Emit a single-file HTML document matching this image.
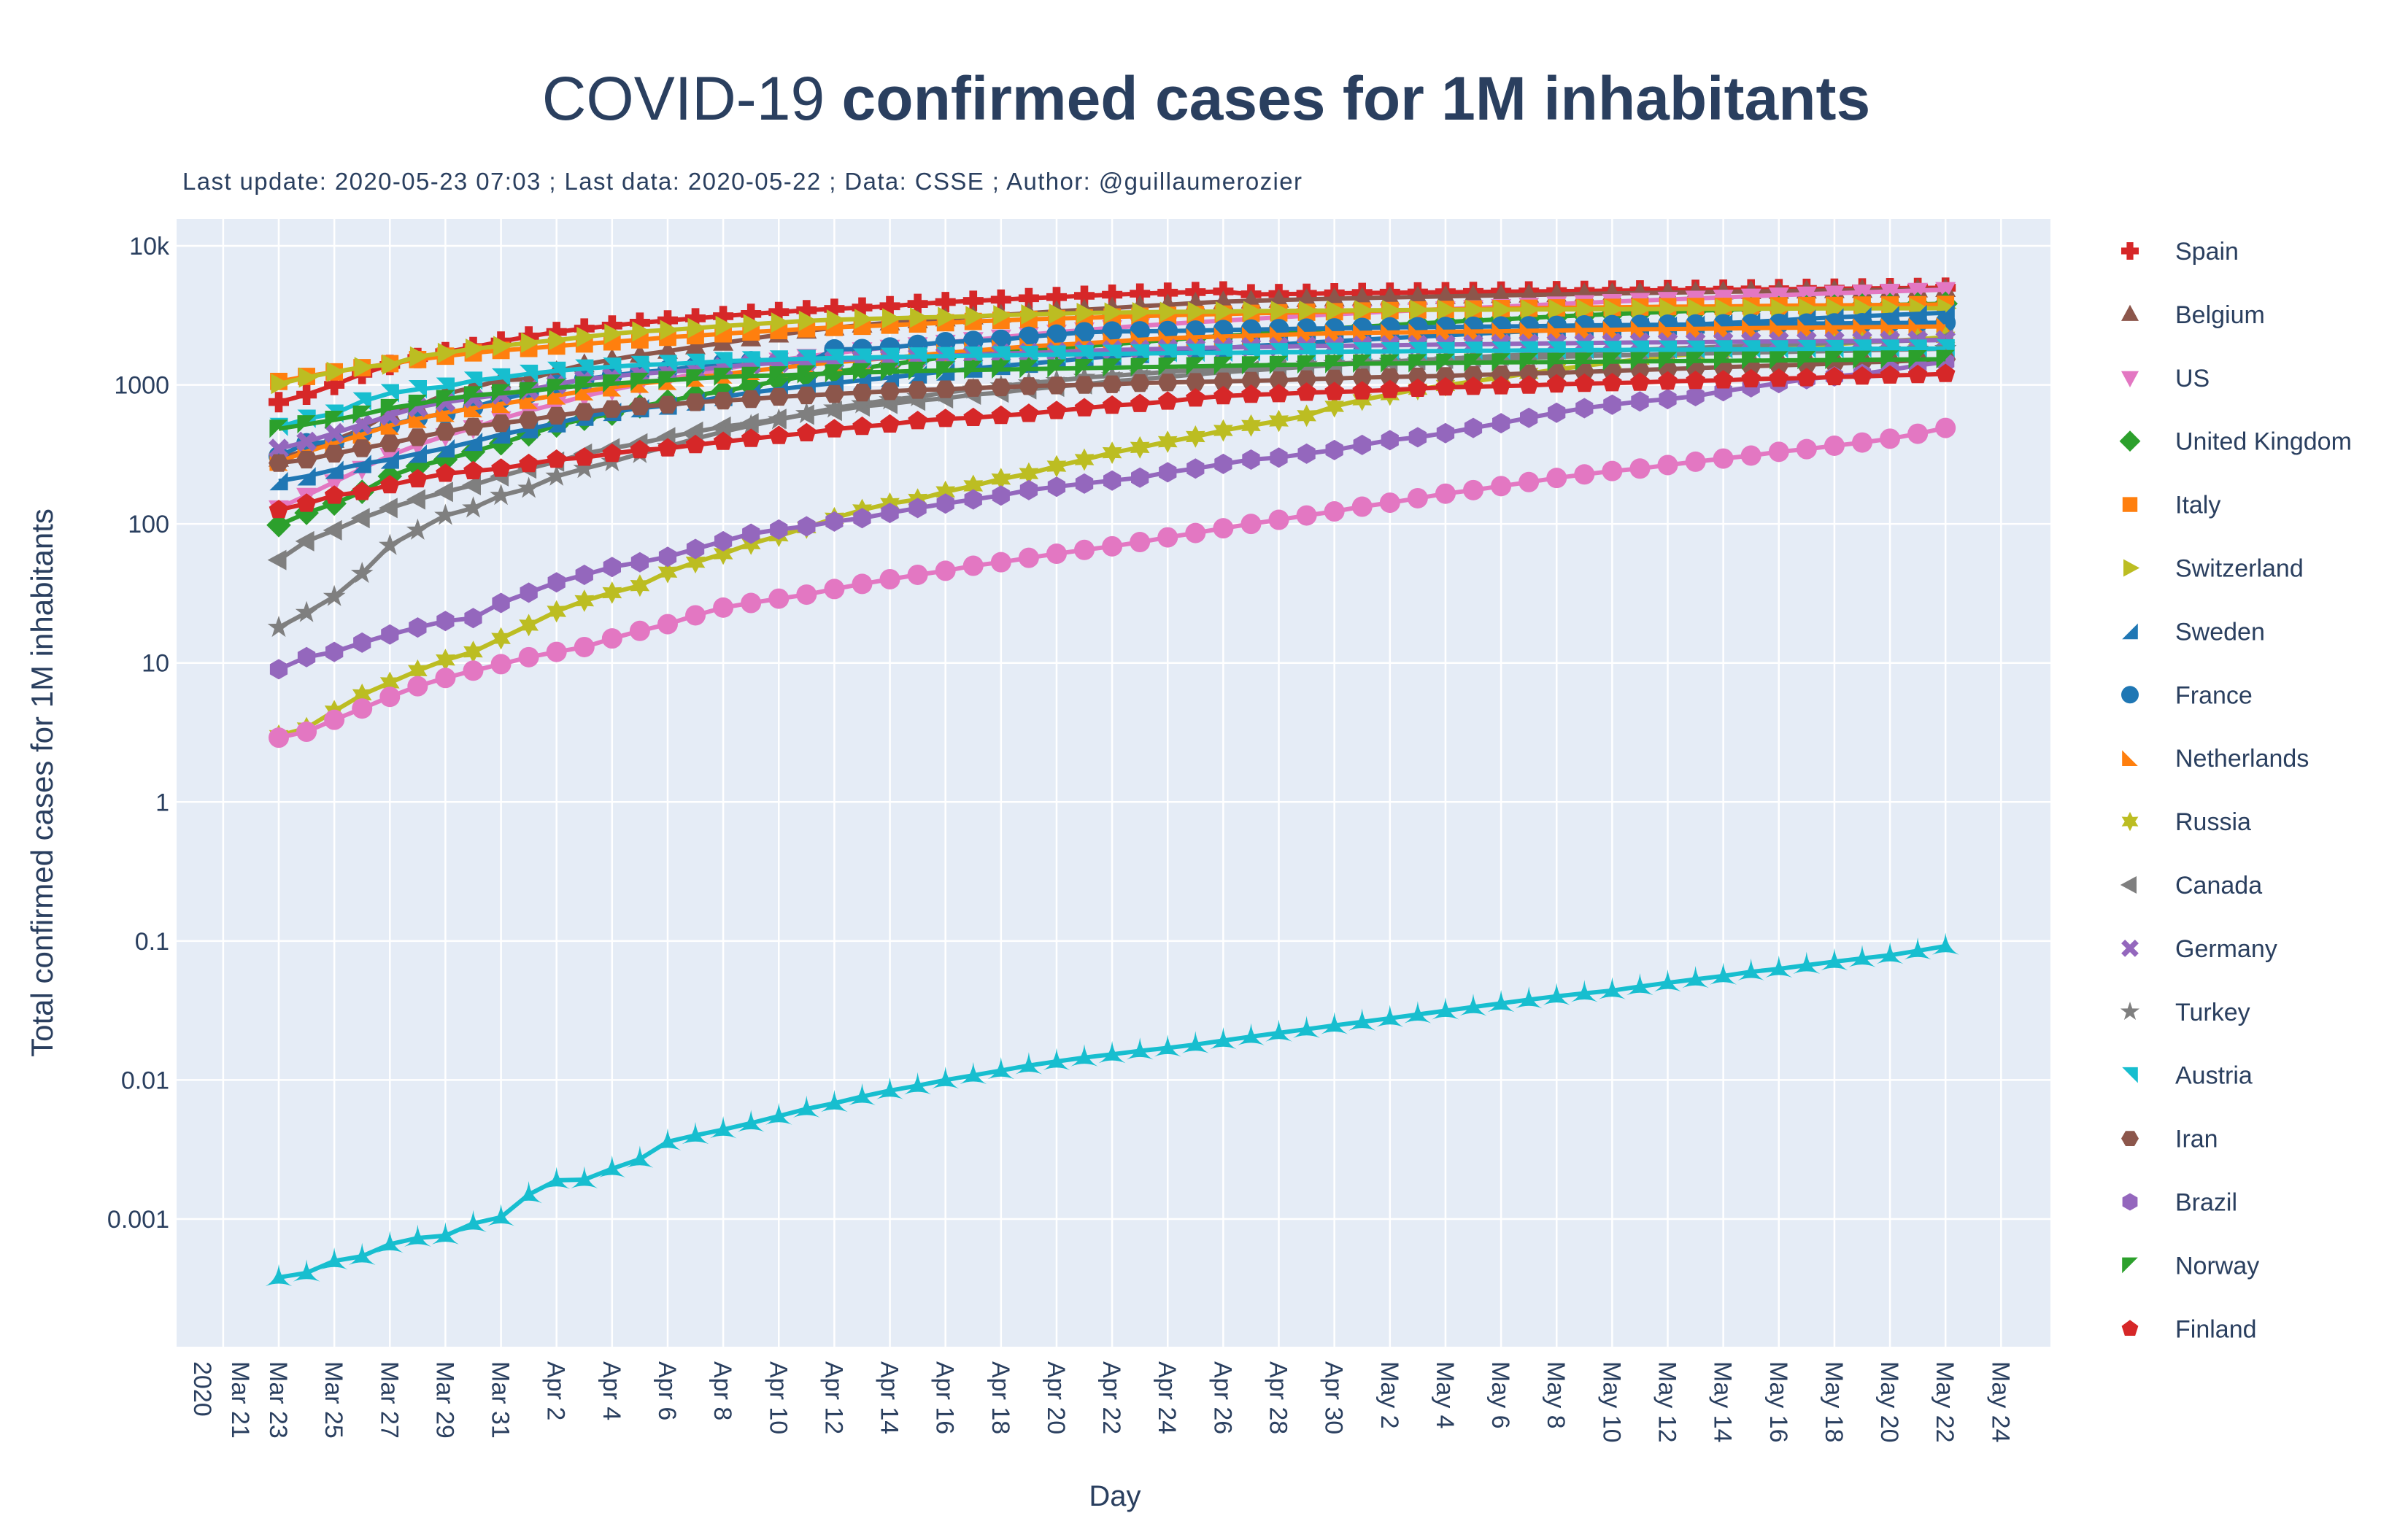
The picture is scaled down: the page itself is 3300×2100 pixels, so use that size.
<!DOCTYPE html>
<html><head><meta charset="utf-8"><style>
html,body{margin:0;padding:0;background:#fff;}
svg{display:block;font-family:"Liberation Sans",Arial,sans-serif;}
</style></head><body>
<svg id="chart" width="3300" height="2100" viewBox="0 0 3300 2100" xmlns="http://www.w3.org/2000/svg">
<rect width="3300" height="2100" fill="#fff"/>
<text x="1653" y="164" text-anchor="middle" font-size="84" fill="#2a3f5f">COVID-19 <tspan font-weight="bold">confirmed cases for 1M inhabitants</tspan></text>
<text x="250" y="260" font-size="33" fill="#2a3f5f" textLength="1534">Last update: 2020-05-23 07:03 ; Last data: 2020-05-22 ; Data: CSSE ; Author: @guillaumerozier</text>
<rect x="242" y="300" width="2568" height="1546" fill="#e5ecf6"/>
<g id="grid"></g>
<g id="yticks"></g>
<g id="xticks"></g>
<g id="series"></g>
<g id="legend"></g>
<text transform="translate(72,1073) rotate(-90)" text-anchor="middle" font-size="42" fill="#2a3f5f">Total confirmed cases  for 1M inhabitants</text>
<text x="1528" y="2064" text-anchor="middle" font-size="40" fill="#2a3f5f">Day</text>
</svg>
<script>
const xTickLabels=["Mar 21","Mar 23","Mar 25","Mar 27","Mar 29","Mar 31","Apr 2","Apr 4","Apr 6","Apr 8","Apr 10","Apr 12","Apr 14","Apr 16","Apr 18","Apr 20","Apr 22","Apr 24","Apr 26","Apr 28","Apr 30","May 2","May 4","May 6","May 8","May 10","May 12","May 14","May 16","May 18","May 20","May 22","May 24"];
const yTickValues=[10000,1000,100,10,1,0.1,0.01,0.001];
const yTickLabels=["10k","1000","100","10","1","0.1","0.01","0.001"];
const countries=["Spain","Belgium","US","United Kingdom","Italy","Switzerland","Sweden","France","Netherlands","Russia","Canada","Germany","Turkey","Austria","Iran","Brazil","Norway","Finland"];
const spain=[752,850,1000,1200,1390,1560,1720,1870,2050,2230,2400,2540,2670,2800,2910,3010,3120,3240,3340,3440,3520,3600,3680,3820,3940,4020,4100,4200,4280,4370,4450,4530,4600,4650,4700,4480,4500,4520,4560,4580,4600,4620,4640,4660,4680,4700,4720,4740,4760,4780,4800,4820,4840,4860,4880,4900,4920,4940,4960,4980,5000];
const belgium=[293,340,400,480,630,700,860,960,1080,1100,1250,1400,1520,1640,1750,1880,2000,2150,2290,2440,2570,2700,2800,2900,2990,3090,3180,3280,3380,3470,3570,3680,3770,3880,3970,4020,4080,4120,4170,4210,4250,4290,4330,4370,4400,4440,4470,4510,4550,4580,4610,4640,4670,4700,4730,4750,4780,4800,4820,4840,4870];
const us=[130,160,200,250,310,370,430,490,570,650,730,830,920,1010,1100,1200,1300,1400,1500,1600,1690,1780,1860,1940,2020,2110,2200,2300,2390,2480,2570,2660,2740,2820,2900,2980,3060,3140,3220,3290,3370,3440,3510,3580,3650,3730,3810,3890,3970,4040,4110,4190,4260,4340,4420,4490,4560,4630,4700,4770,4840];
const uk=[98,120,140,170,220,260,290,330,380,440,510,570,620,700,760,840,900,980,1070,1160,1240,1320,1400,1490,1580,1660,1720,1780,1840,1900,1960,2030,2110,2180,2250,2310,2380,2470,2550,2620,2690,2760,2830,2900,2960,3030,3100,3170,3230,3290,3350,3410,3460,3520,3570,3620,3670,3720,3760,3800,3840];
const italy=[1058,1150,1240,1330,1420,1520,1610,1700,1770,1830,1900,1970,2040,2110,2200,2260,2330,2400,2460,2530,2590,2640,2690,2740,2800,2860,2910,2960,3000,3030,3080,3120,3160,3200,3230,3270,3300,3330,3360,3400,3430,3460,3490,3510,3540,3560,3580,3600,3610,3630,3650,3660,3670,3690,3710,3720,3730,3750,3760,3770,3790];
const switzerland=[1017,1130,1240,1340,1400,1600,1700,1820,1900,2010,2100,2210,2330,2420,2480,2560,2650,2730,2810,2890,2940,2980,3010,3050,3080,3120,3170,3210,3250,3290,3310,3330,3350,3360,3370,3390,3400,3420,3430,3440,3450,3460,3470,3475,3480,3485,3490,3500,3505,3510,3515,3520,3525,3530,3535,3540,3545,3550,3553,3556,3560];
const sweden=[203,220,245,270,290,320,350,390,440,480,530,590,640,680,710,760,820,880,930,980,1030,1080,1130,1190,1250,1310,1370,1420,1480,1550,1610,1670,1730,1790,1840,1900,1950,2010,2060,2110,2170,2220,2270,2330,2380,2430,2480,2530,2580,2620,2670,2720,2780,2840,2910,2990,3060,3120,3180,3240,3300];
const france=[307,380,390,450,510,580,620,690,790,870,1000,1100,1170,1230,1280,1350,1440,1480,1470,1440,1800,1810,1860,1940,2030,2070,2110,2220,2300,2390,2420,2430,2440,2460,2480,2500,2520,2540,2550,2570,2590,2600,2610,2620,2630,2640,2660,2680,2690,2700,2710,2720,2730,2740,2750,2760,2770,2780,2790,2795,2800];
const netherlands=[280,330,380,440,510,570,630,680,730,780,840,900,960,1020,1070,1130,1190,1260,1320,1390,1450,1510,1560,1630,1700,1760,1830,1890,1940,1990,2050,2110,2160,2200,2230,2260,2290,2320,2350,2370,2380,2390,2410,2420,2430,2450,2460,2480,2490,2510,2520,2530,2540,2560,2570,2580,2590,2600,2610,2620,2630];
const russia=[3.0,3.4,4.5,5.9,7.2,8.8,10.5,12.0,15.0,18.7,23.5,28,32,36,45,53,61,72,82,94,110,126,140,150,170,188,210,230,260,290,325,355,390,425,470,510,550,600,700,780,850,930,990,1060,1130,1210,1290,1370,1450,1530,1610,1670,1730,1790,1850,1910,1960,2020,2070,2130,2200];
const canada=[55,75,90,110,130,150,170,190,220,250,280,320,350,380,420,460,500,530,570,610,650,700,730,770,800,850,880,930,970,1010,1060,1100,1140,1190,1230,1270,1310,1350,1390,1430,1470,1510,1540,1580,1620,1650,1690,1720,1760,1790,1820,1850,1880,1910,1940,1970,2000,2030,2060,2090,2120];
const germany=[347,390,450,520,600,690,750,800,850,920,1010,1100,1150,1200,1240,1280,1340,1400,1440,1480,1510,1530,1560,1590,1620,1650,1680,1700,1720,1760,1780,1800,1820,1840,1860,1870,1880,1900,1910,1920,1930,1940,1950,1960,1970,1980,1990,2000,2010,2020,2025,2030,2040,2050,2055,2060,2065,2075,2080,2090,2100];
const turkey=[18,23,30,44,70,90,115,130,160,180,220,250,280,320,360,410,460,510,560,620,680,730,780,820,880,930,980,1030,1070,1130,1160,1200,1240,1280,1310,1340,1360,1400,1420,1450,1470,1490,1510,1530,1550,1570,1590,1610,1630,1640,1660,1680,1690,1710,1720,1740,1750,1770,1790,1800,1820];
const austria=[498,570,620,760,870,930,970,1070,1130,1200,1260,1310,1350,1390,1410,1440,1480,1500,1520,1540,1560,1570,1590,1600,1610,1620,1630,1640,1650,1660,1670,1680,1690,1700,1700,1710,1720,1720,1730,1740,1740,1750,1750,1760,1760,1770,1770,1780,1780,1790,1790,1790,1800,1800,1800,1810,1810,1820,1820,1820,1830];
const iran=[274,290,320,350,380,420,460,500,530,560,600,640,670,700,720,750,770,790,820,840,860,880,900,920,930,950,960,980,990,1000,1010,1030,1040,1050,1060,1070,1080,1100,1110,1130,1140,1150,1160,1180,1190,1210,1220,1240,1260,1280,1300,1320,1340,1360,1380,1400,1420,1450,1470,1500,1530];
const brazil=[9,11,12,14,16,18,20,21,27,32,38,43,49,53,58,66,75,85,91,96,104,110,120,130,140,150,160,175,185,195,205,215,235,250,270,290,300,320,340,370,400,420,450,490,530,580,630,680,720,760,790,830,900,960,1030,1100,1150,1200,1280,1380,1460];
const norway=[483,520,560,610,680,730,790,840,870,900,950,990,1020,1050,1080,1110,1140,1160,1170,1190,1210,1230,1240,1260,1270,1280,1290,1300,1310,1320,1330,1340,1350,1360,1370,1380,1390,1400,1410,1420,1425,1430,1440,1445,1450,1455,1460,1465,1470,1475,1480,1485,1490,1495,1500,1505,1510,1515,1520,1525,1530];
const finland=[126,140,160,170,190,210,230,240,250,270,290,300,320,340,350,370,390,410,430,450,480,500,520,550,570,580,600,620,650,680,710,730,760,800,830,850,860,880,890,900,920,940,960,970,980,990,1010,1020,1030,1040,1060,1070,1080,1100,1110,1120,1140,1150,1170,1180,1200];
const extraPink=[2.9,3.2,3.9,4.7,5.7,6.8,7.8,8.8,9.8,11,12,13,15,17,19,22,25,27,29,31,34,37,40,43,46,50,53,57,61,65,69,74,80,86,93,100,107,115,123,133,142,153,165,175,187,200,214,227,240,250,265,280,295,310,330,345,365,385,410,445,490];
const extraCyan=[0.00038,0.00041,0.0005,0.00054,0.00066,0.00073,0.00076,0.00093,0.00103,0.0015,0.0019,0.00192,0.0023,0.0027,0.0036,0.004,0.0044,0.0049,0.0055,0.0062,0.0068,0.0076,0.0084,0.0091,0.01,0.0108,0.0117,0.0127,0.0136,0.0145,0.0153,0.0162,0.017,0.018,0.0192,0.0205,0.0218,0.0232,0.0247,0.0262,0.0278,0.0296,0.0315,0.0335,0.0356,0.0378,0.04,0.042,0.044,0.047,0.05,0.053,0.056,0.06,0.063,0.067,0.071,0.075,0.079,0.085,0.092];

const NS="http://www.w3.org/2000/svg";
const X0=382, DX=38.07, Y10K=337, DEC=190.57;
function xOf(d){return X0+d*DX;}
function yOf(v){return Y10K+(4-Math.log10(v))*DEC;}
function mk(tag,attrs,parent){const e=document.createElementNS(NS,tag);for(const k in attrs)e.setAttribute(k,attrs[k]);parent.appendChild(e);return e;}

const grid=document.getElementById('grid');
xTickLabels.forEach((lab,i)=>{
  const x=xOf(-2+2*i);
  const l=mk('line',{x1:x,x2:x,y1:300,y2:1846,stroke:'#fff','stroke-width':2.5},grid);
  
  
});
yTickValues.forEach(v=>{
  const y=yOf(v);
  const l=mk('line',{x1:242,x2:2810,y1:y,y2:y,stroke:'#fff','stroke-width':2.5},grid);
  
  
});
const yt=document.getElementById('yticks');
yTickValues.forEach((v,i)=>{
  const t=mk('text',{x:232,y:yOf(v)+12,'text-anchor':'end','font-size':34,fill:'#2a3f5f'},yt);
  t.textContent=yTickLabels[i];
  
  
});
const xt=document.getElementById('xticks');
xTickLabels.forEach((lab,i)=>{
  const x=xOf(-2+2*i)+(i===0?24:0);
  const t=mk('text',{transform:`translate(${x-12},1866) rotate(90)`,'font-size':34,fill:'#2a3f5f'},xt);
  t.textContent=lab;
  
  
  if(i===0){
    const t2=mk('text',{transform:`translate(${xOf(-2)-40},1866) rotate(90)`,'font-size':34,fill:'#2a3f5f'},xt);
    t2.textContent='2020';
    
    
  }
});

function poly(pts){return 'M'+pts.map(p=>p[0].toFixed(1)+','+p[1].toFixed(1)).join('L')+'Z';}
function symbolPath(sym,cx,cy,s){
  const P=(a)=>poly(a.map(p=>[cx+p[0]*s,cy+p[1]*s]));
  const q=(x,y)=>(cx+x*s).toFixed(1)+','+(cy+y*s).toFixed(1);
  switch(sym){
    case 'cross':{const a=0.38;return P([[-a,-1],[a,-1],[a,-a],[1,-a],[1,a],[a,a],[a,1],[-a,1],[-a,a],[-1,a],[-1,-a],[-a,-a]]);}
    case 'x':{const a=0.3;const base=[[-a,-1.1],[a,-1.1],[a,-a],[1.1,-a],[1.1,a],[a,a],[a,1.1],[-a,1.1],[-a,a],[-1.1,a],[-1.1,-a],[-a,-a]];const c=Math.SQRT1_2;return P(base.map(p=>[(p[0]-p[1])*c,(p[0]+p[1])*c]));}
    case 'tri-up':return P([[0,-1.1],[1,0.75],[-1,0.75]]);
    case 'star-tri-up':return 'M'+q(0,-1.15)+'Q'+q(0.15,0.2)+' '+q(1.15,0.75)+'Q'+q(0,0.3)+' '+q(-1.15,0.75)+'Q'+q(-0.15,0.2)+' '+q(0,-1.15)+'Z';
    case 'tri-down':return P([[0,1.1],[1,-0.75],[-1,-0.75]]);
    case 'tri-left':return P([[-1.1,0],[0.75,-1],[0.75,1]]);
    case 'tri-right':return P([[1.1,0],[-0.75,-1],[-0.75,1]]);
    case 'tri-se':return P([[0.9,-0.9],[0.9,0.9],[-0.9,0.9]]);
    case 'tri-sw':return P([[-0.9,-0.9],[-0.9,0.9],[0.9,0.9]]);
    case 'tri-ne':return P([[-0.9,-0.9],[0.9,-0.9],[0.9,0.9]]);
    case 'tri-nw':return P([[-0.9,-0.9],[0.9,-0.9],[-0.9,0.9]]);
    case 'square':return P([[-0.85,-0.85],[0.85,-0.85],[0.85,0.85],[-0.85,0.85]]);
    case 'diamond':return P([[0,-1.2],[1.2,0],[0,1.2],[-1.2,0]]);
    case 'circle':return `M${cx-s},${cy}a${s},${s} 0 1,0 ${2*s},0a${s},${s} 0 1,0 ${-2*s},0Z`;
    case 'star':{const a=[];for(let i=0;i<10;i++){const r=i%2?0.45:1.15;const t=-Math.PI/2+i*Math.PI/5;a.push([r*Math.cos(t),r*Math.sin(t)]);}return P(a);}
    case 'hexagram':{const a=[];for(let i=0;i<12;i++){const r=i%2?0.6:1.1;const t=-Math.PI/2+i*Math.PI/6;a.push([r*Math.cos(t),r*Math.sin(t)]);}return P(a);}
    case 'hexagon':{const a=[];for(let i=0;i<6;i++){const t=i*Math.PI/3;a.push([Math.cos(t),Math.sin(t)]);}return P(a);}
    case 'hexagon2':{const a=[];for(let i=0;i<6;i++){const t=Math.PI/2+i*Math.PI/3;a.push([Math.cos(t),Math.sin(t)]);}return P(a);}
    case 'pentagon':{const a=[];for(let i=0;i<5;i++){const t=-Math.PI/2+i*2*Math.PI/5;a.push([Math.cos(t),Math.sin(t)]);}return P(a);}
  }
}
const seriesValues=[spain,belgium,us,uk,italy,switzerland,sweden,france,netherlands,russia,canada,germany,turkey,austria,iran,brazil,norway,finland,extraPink,extraCyan];
const seriesColors=['#d62728','#8c564b','#e377c2','#2ca02c','#ff7f0e','#bcbd22','#1f77b4','#1f77b4','#ff7f0e','#bcbd22','#7f7f7f','#9467bd','#7f7f7f','#17becf','#8c564b','#9467bd','#2ca02c','#d62728','#e377c2','#17becf'];
const seriesSymbols=['cross','tri-up','tri-down','diamond','square','tri-right','tri-se','circle','tri-sw','hexagram','tri-left','x','star','tri-ne','hexagon','hexagon2','tri-nw','pentagon','circle','star-tri-up'];
const seriesNames=countries.concat(['extra-pink','extra-cyan']);
const sg=document.getElementById('series');
seriesValues.forEach((vals,k)=>{
  const g=mk('g',{},sg);
  
  
  const d=vals.map((v,i)=>(i?'L':'M')+xOf(i).toFixed(1)+','+yOf(v).toFixed(1)).join('');
  const ln=mk('path',{d:d,fill:'none',stroke:seriesColors[k],'stroke-width':6,'stroke-linejoin':'round'},g);
  
  
  let md='';
  const sz=seriesSymbols[k]==='star-tri-up'?16:14;
  vals.forEach((v,i)=>{md+=symbolPath(seriesSymbols[k],xOf(i),yOf(v),sz);});
  const m=mk('path',{d:md,fill:seriesColors[k]},g);
  
  
});
const lg=document.getElementById('legend');
countries.forEach((c,k)=>{
  const y=344+k*86.9;
  const g=mk('g',{},lg);
  
  
  const m=mk('path',{d:symbolPath(seriesSymbols[k],2919,y,12),fill:seriesColors[k]},g);
  
  
  const t=mk('text',{x:2981,y:y+12,'font-size':34,fill:'#2a3f5f'},g);
  t.textContent=c;
  
  
});
</script>
</body></html>
